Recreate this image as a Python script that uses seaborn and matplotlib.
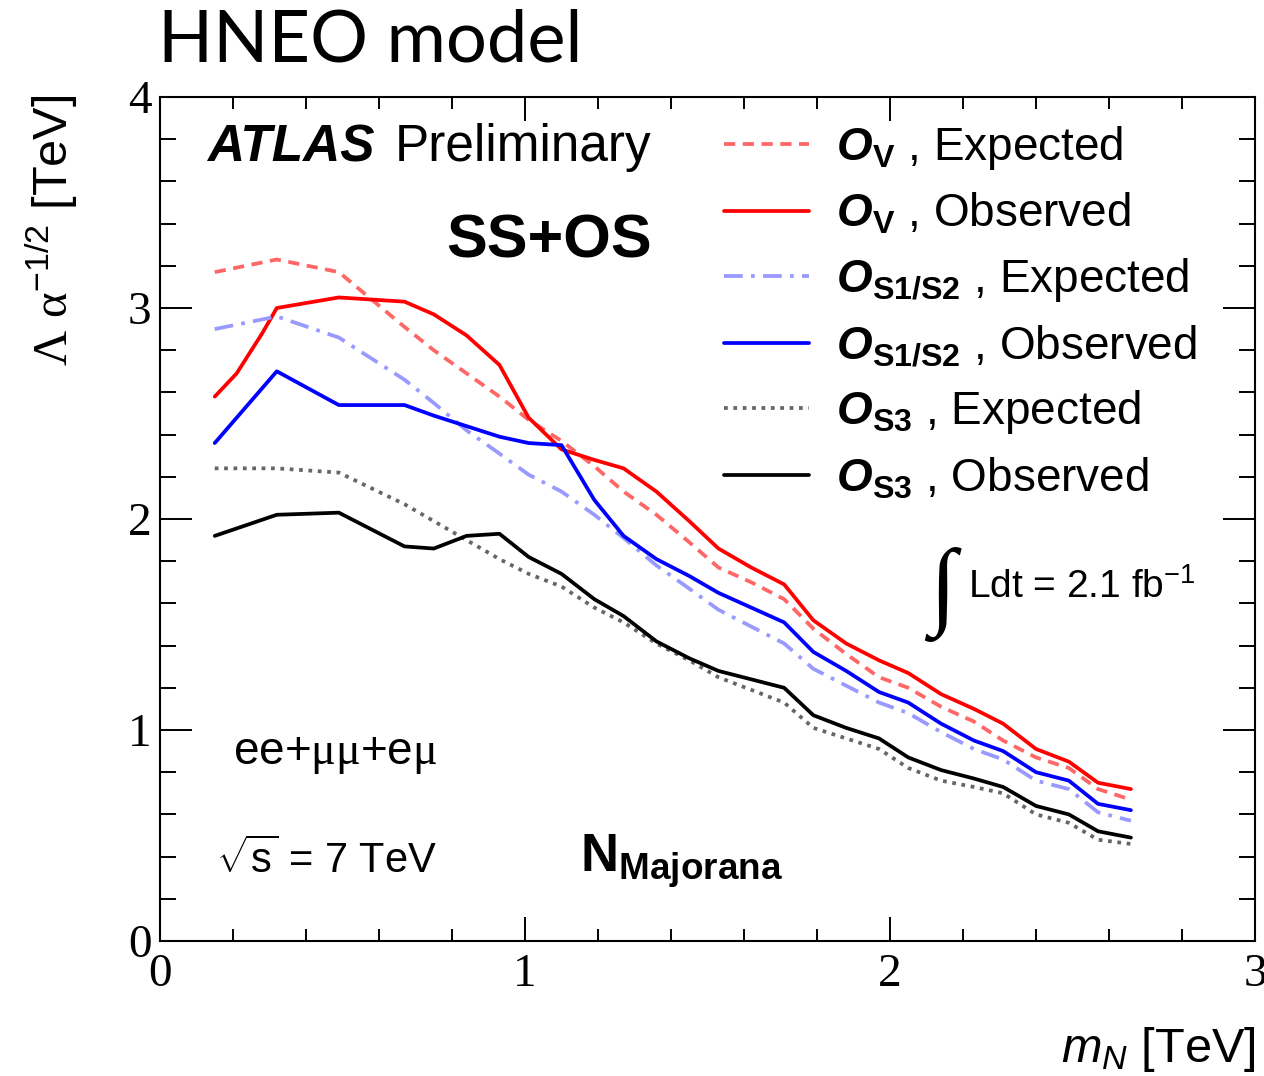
import numpy as np
import pandas as pd
import matplotlib
matplotlib.use("Agg")
import matplotlib.pyplot as plt
import seaborn as sns
from matplotlib.ticker import MultipleLocator, FixedLocator

# ------------------------------------------------------------
# datos (m_N en TeV, limite en TeV)
# ------------------------------------------------------------
masa = [0.15, 0.32, 0.49, 0.67, 0.75, 0.84, 0.93, 1.01, 1.10, 1.19, 1.27, 1.36,
        1.45, 1.53, 1.62, 1.71, 1.79, 1.88, 1.97, 2.05, 2.14, 2.23, 2.31, 2.40,
        2.49, 2.57, 2.66]

# O_V observado tiene dos puntos extra al inicio
masa_ov_obs = [0.15, 0.21, 0.28] + masa[1:]
ov_obs = [2.58, 2.69, 2.88, 3.00, 3.05, 3.03, 2.97, 2.87, 2.73, 2.48, 2.33, 2.28,
          2.24, 2.13, 1.99, 1.86, 1.77, 1.69, 1.52, 1.41, 1.33, 1.27, 1.17, 1.10,
          1.03, 0.91, 0.85, 0.75, 0.72]
ov_exp = [3.17, 3.23, 3.17, 2.91, 2.80, 2.69, 2.58, 2.47, 2.37, 2.25, 2.13, 2.02,
          1.89, 1.77, 1.70, 1.62, 1.48, 1.36, 1.25, 1.20, 1.11, 1.04, 0.95, 0.87,
          0.82, 0.72, 0.67]
os12_obs = [2.36, 2.70, 2.54, 2.54, 2.49, 2.44, 2.39, 2.36, 2.35, 2.09, 1.92, 1.81,
            1.73, 1.65, 1.58, 1.51, 1.37, 1.28, 1.18, 1.13, 1.03, 0.95, 0.90, 0.80,
            0.76, 0.65, 0.62]
os12_exp = [2.90, 2.96, 2.86, 2.66, 2.55, 2.42, 2.31, 2.21, 2.13, 2.02, 1.91, 1.78,
            1.67, 1.57, 1.49, 1.41, 1.29, 1.21, 1.13, 1.08, 0.99, 0.91, 0.86, 0.76,
            0.72, 0.61, 0.57]
os3_obs = [1.92, 2.02, 2.03, 1.87, 1.86, 1.92, 1.93, 1.82, 1.74, 1.62, 1.54, 1.42,
           1.34, 1.28, 1.24, 1.20, 1.07, 1.01, 0.96, 0.87, 0.81, 0.77, 0.73, 0.64,
           0.60, 0.52, 0.49]
os3_exp = [2.24, 2.24, 2.22, 2.07, 1.99, 1.90, 1.81, 1.74, 1.68, 1.58, 1.51, 1.41,
           1.33, 1.25, 1.19, 1.13, 1.01, 0.96, 0.91, 0.82, 0.76, 0.73, 0.70, 0.60,
           0.56, 0.48, 0.46]

etiquetas = [
    r"$\mathbfit{O}_{\mathbf{V}}$ , Expected",
    r"$\mathbfit{O}_{\mathbf{V}}$ , Observed",
    r"$\mathbfit{O}_{\mathbf{S1/S2}}$ , Expected",
    r"$\mathbfit{O}_{\mathbf{S1/S2}}$ , Observed",
    r"$\mathbfit{O}_{\mathbf{S3}}$ , Expected",
    r"$\mathbfit{O}_{\mathbf{S3}}$ , Observed",
]

# ------------------------------------------------------------
# estilo
# ------------------------------------------------------------
sns.set_style("ticks")
plt.rcParams["font.family"] = ["Liberation Sans", "DejaVu Sans"]
plt.rcParams["mathtext.fontset"] = "custom"
plt.rcParams["mathtext.rm"] = "Liberation Serif"
plt.rcParams["mathtext.it"] = "Liberation Sans:italic"
plt.rcParams["mathtext.bf"] = "Liberation Sans:bold"
plt.rcParams["mathtext.bfit"] = "Liberation Sans:italic:bold"
plt.rcParams["mathtext.sf"] = "Liberation Sans"
for k in ["text.color", "axes.labelcolor", "xtick.color", "ytick.color",
          "axes.edgecolor"]:
    plt.rcParams[k] = "black"

W, H = 1264, 1076
fig = plt.figure(figsize=(W / 100, H / 100), dpi=100)
ax = fig.add_axes([160 / W, 135 / H, 1095 / W, 844 / H])

series = [
    (masa, ov_exp, "#ff6666", (0, (3, 2))),
    (masa_ov_obs, ov_obs, "#ff0000", "-"),
    (masa, os12_exp, "#9999ff", (0, (5, 2.2, 1, 2.2))),
    (masa, os12_obs, "#0000ff", "-"),
    (masa, os3_exp, "#666666", (0, (1, 1.5))),
    (masa, os3_obs, "#000000", "-"),
]
for (xs, ys, col, ls), lab in zip(series, etiquetas):
    sns.lineplot(x=xs, y=ys, color=col, linestyle=ls, linewidth=2.7,
                 label=lab, errorbar=None, sort=False, ax=ax)

ax.set_xlim(0, 3)
ax.set_ylim(0, 4)
ax.xaxis.set_major_locator(FixedLocator([0, 1, 2, 3]))
ax.xaxis.set_minor_locator(MultipleLocator(0.2))
ax.yaxis.set_major_locator(FixedLocator([0, 1, 2, 3, 4]))
ax.yaxis.set_minor_locator(MultipleLocator(0.2))
for s in ax.spines.values():
    s.set_linewidth(1.5)
    s.set_visible(True)
ax.xaxis.set_tick_params(which="major", direction="in", length=17, width=1.4,
                         top=True, pad=9)
ax.xaxis.set_tick_params(which="minor", direction="in", length=8.6, width=1.4, top=True)
ax.yaxis.set_tick_params(which="major", direction="in", length=23, width=1.4,
                         right=True, pad=6)
ax.yaxis.set_tick_params(which="minor", direction="in", length=11.5, width=1.4, right=True)
for lbl in ax.get_xticklabels() + ax.get_yticklabels():
    lbl.set_family("Liberation Serif")
    lbl.set_fontsize(34)
ax.set_xlabel("")
ax.set_ylabel("")

leg = ax.legend(loc="upper left", bbox_to_anchor=(724 / W, 1 - 124 / H),
                bbox_transform=fig.transFigure, frameon=False, fontsize=33,
                handlelength=1.85, handletextpad=0.6, labelspacing=0.42,
                borderpad=0, borderaxespad=0)

# ------------------------------------------------------------
# textos
# ------------------------------------------------------------
def fx(px):
    return px / W


def fy(py):
    return 1 - py / H


fig.text(fx(158), fy(62), "HNEO model", fontsize=52, family="Lato",
         va="baseline")
fig.text(fx(207), fy(161), "ATLAS", fontsize=37, fontweight="bold",
         fontstyle="italic", va="baseline")
fig.text(fx(395), fy(161), "Preliminary", fontsize=37, va="baseline")
fig.text(fx(446), fy(257), "SS+OS", fontsize=44, fontweight="bold", va="baseline")
fig.text(fx(924), fy(616), r"$\int$", fontsize=70, family="DejaVu Sans", va="baseline")
fig.text(fx(968), fy(598), r"Ldt = 2.1 fb$^{\mathsf{-1}}$", fontsize=28, va="baseline")
fig.text(fx(233), fy(764), r"ee+$\mathrm{\mu\mu}$+e$\mathrm{\mu}$", fontsize=33,
         va="baseline")
fig.text(fx(216), fy(873), r"$\sqrt{\mathsf{s}}$ = 7 TeV", fontsize=30, va="baseline")
fig.text(fx(580), fy(872), r"$\mathbf{N_{Majorana}}$", fontsize=38, va="baseline")

fig.text(fx(52), fy(95), r"$\Lambda\ \mathrm{\alpha}^{\mathsf{-1/2}}$ [TeV]",
         fontsize=35, rotation=90, ha="center", va="top")
fig.text(fx(1256), fy(1062), r"$m_{N}$ [TeV]", fontsize=35, ha="right",
         va="baseline")

fig.savefig("out.png", dpi=100)
